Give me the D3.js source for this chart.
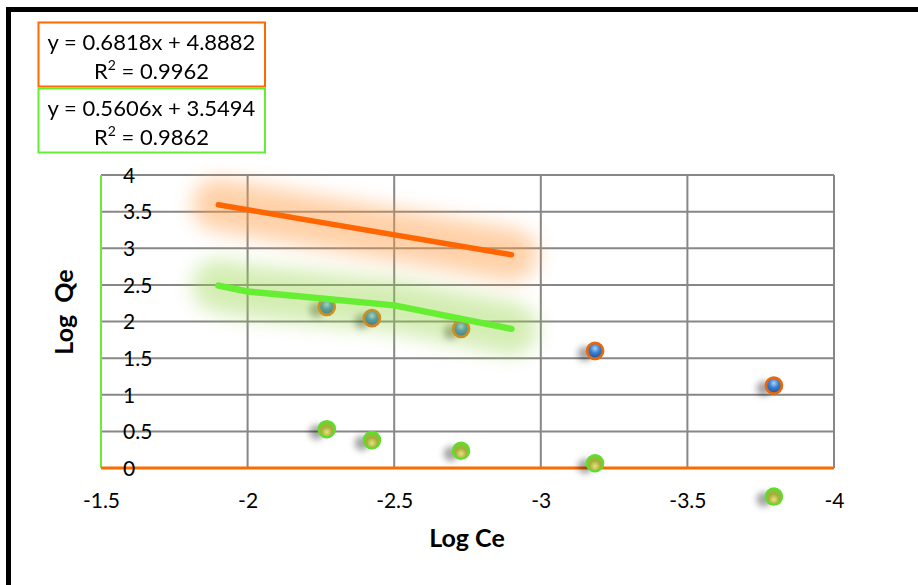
<!DOCTYPE html>
<html>
<head>
<meta charset="utf-8">
<script src="https://cdn.jsdelivr.net/npm/d3@7"></script>
<style>
  html, body { margin: 0; padding: 0; background: #fff; }
  svg { display: block; font-family: Lato, "Open Sans", sans-serif; }
</style>
</head>
<body>
<svg id="chart" width="918" height="585"></svg>
<script>
// Measured points (log scale)
const logCe = [-2.27, -2.424, -2.728, -3.185, -3.795];
const seriesA = [2.20, 2.045, 1.90, 1.60, 1.125];   // blue markers, orange rim
const seriesB = [0.53, 0.38, 0.235, 0.065, -0.39];  // green markers

// Trendline traces as plotted
const trendAx = [-1.9, -2.9];
const trendAy = [3.593, 2.911];
const trendBx = [-1.9, -2.0, -2.5, -2.9];
const trendBy = [2.49, 2.41, 2.22, 1.90];

const xTicks = [-1.5, -2, -2.5, -3, -3.5, -4];
const yTicks = [0, 0.5, 1, 1.5, 2, 2.5, 3, 3.5, 4];

const eqA = ["y = 0.6818x + 4.8882", "0.9962"];
const eqB = ["y = 0.5606x + 3.5494", "0.9862"];

const svg = d3.select("#chart");
const defs = svg.append("defs");

const x = d3.scaleLinear().domain([-1.5, -4]).range([101, 834]);
const y = d3.scaleLinear().domain([0, 4]).range([468, 175]);

// Filters and gradients
const glow = defs.append("filter").attr("id", "glow")
  .attr("x", "-30%").attr("y", "-100%").attr("width", "160%").attr("height", "300%");
glow.append("feGaussianBlur").attr("stdDeviation", 10);

const shadow = defs.append("filter").attr("id", "shadow")
  .attr("x", "-100%").attr("y", "-100%").attr("width", "300%").attr("height", "300%");
shadow.append("feGaussianBlur").attr("stdDeviation", 3);

const gBlue = defs.append("radialGradient").attr("id", "ballBlue")
  .attr("cx", "50%").attr("cy", "35%").attr("r", "65%");
gBlue.append("stop").attr("offset", "0%").attr("stop-color", "#a6d4ff");
gBlue.append("stop").attr("offset", "45%").attr("stop-color", "#3a7fd2");
gBlue.append("stop").attr("offset", "100%").attr("stop-color", "#1f4f90");

const gGreen = defs.append("radialGradient").attr("id", "ballGreen")
  .attr("cx", "50%").attr("cy", "68%").attr("r", "60%");
gGreen.append("stop").attr("offset", "0%").attr("stop-color", "#e4e47c");
gGreen.append("stop").attr("offset", "55%").attr("stop-color", "#a8ac3c");
gGreen.append("stop").attr("offset", "100%").attr("stop-color", "#7ccc30");

// Outer frame
svg.append("rect")
  .attr("x", 8.5).attr("y", 9.5).attr("width", 940).attr("height", 600)
  .attr("fill", "none").attr("stroke", "#000").attr("stroke-width", 5);

// Gridlines
svg.append("g").selectAll("line").data(yTicks.filter(d => d > 0)).join("line")
  .attr("x1", x(-1.5)).attr("x2", x(-4))
  .attr("y1", d => y(d)).attr("y2", d => y(d))
  .attr("stroke", "#878787").attr("stroke-width", 2);
svg.append("g").selectAll("line").data(xTicks.filter(d => d !== -1.5)).join("line")
  .attr("x1", d => x(d)).attr("x2", d => x(d))
  .attr("y1", y(0)).attr("y2", y(4))
  .attr("stroke", "#878787").attr("stroke-width", 2);

// Axis lines
svg.append("line")
  .attr("x1", x(-1.5)).attr("x2", x(-1.5)).attr("y1", y(0)).attr("y2", y(4))
  .attr("stroke", "#66ee33").attr("stroke-width", 2);
svg.append("line")
  .attr("x1", x(-1.5)).attr("x2", x(-4)).attr("y1", y(0)).attr("y2", y(0))
  .attr("stroke", "#ff6a00").attr("stroke-width", 3);

// Tick labels
const fmt = d => String(d);
const xAxis = svg.append("g").attr("transform", `translate(0,${y(0)})`)
  .call(d3.axisBottom(x).tickValues(xTicks).tickSize(0).tickFormat(fmt));
xAxis.select(".domain").remove();
xAxis.selectAll("text").attr("y", 33).attr("dy", "0.35em")
  .attr("font-size", 21).attr("fill", "#000").attr("font-family", "Lato, sans-serif");

const yAxis = svg.append("g").attr("transform", "translate(123,0)")
  .call(d3.axisLeft(y).tickValues(yTicks).tickSize(0).tickFormat(fmt));
yAxis.select(".domain").remove();
yAxis.selectAll("text").attr("x", 0).attr("text-anchor", "start").attr("dy", "0.35em")
  .attr("font-size", 21).attr("fill", "#000").attr("font-family", "Lato, sans-serif");

// Axis titles
svg.append("text").attr("x", 467).attr("y", 538).attr("dy", "0.35em")
  .attr("text-anchor", "middle").attr("font-weight", "bold").attr("font-size", 25)
  .text("Log Ce");
svg.append("text").attr("transform", "translate(64,312) rotate(-90)").attr("dy", "0.35em")
  .attr("text-anchor", "middle").attr("font-weight", "bold").attr("font-size", 25)
  .attr("xml:space", "preserve").text("Log  Qe");

// Marker shadows and markers
const pts = logCe.map((c, i) => ({ c, a: seriesA[i], b: seriesB[i] }));
const sh = svg.append("g").attr("filter", "url(#shadow)");
sh.selectAll("circle.sa").data(pts).join("circle")
  .attr("cx", d => x(d.c) - 10).attr("cy", d => y(d.a) + 3).attr("r", 7.5)
  .attr("fill", "#000").attr("opacity", 0.35);
sh.selectAll("circle.sb").data(pts).join("circle")
  .attr("cx", d => x(d.c) - 10).attr("cy", d => y(d.b) + 3).attr("r", 7.5)
  .attr("fill", "#000").attr("opacity", 0.35);

svg.append("g").selectAll("circle").data(pts).join("circle")
  .attr("cx", d => x(d.c)).attr("cy", d => y(d.a)).attr("r", 8)
  .attr("fill", "url(#ballBlue)").attr("stroke", "#e8680c").attr("stroke-width", 2.8);
svg.append("g").selectAll("circle").data(pts).join("circle")
  .attr("cx", d => x(d.c)).attr("cy", d => y(d.b)).attr("r", 8.2)
  .attr("fill", "url(#ballGreen)").attr("stroke", "#5ede2a").attr("stroke-width", 2.2);

// Trendlines with soft glow
const line = d3.line().x(d => x(d[0])).y(d => y(d[1]));
const trendA = trendAx.map((v, i) => [v, trendAy[i]]);
const trendB = trendBx.map((v, i) => [v, trendBy[i]]);

svg.append("path").attr("d", line(trendA)).attr("fill", "none")
  .attr("stroke", "#ff9a40").attr("stroke-width", 52).attr("stroke-linecap", "round")
  .attr("opacity", 0.45).attr("filter", "url(#glow)");
svg.append("path").attr("d", line(trendB)).attr("fill", "none")
  .attr("stroke", "#98d448").attr("stroke-width", 52).attr("stroke-linecap", "round")
  .attr("opacity", 0.42).attr("filter", "url(#glow)");

svg.append("path").attr("d", line(trendA)).attr("fill", "none")
  .attr("stroke", "#ff6600").attr("stroke-width", 5.5).attr("stroke-linecap", "round");
svg.append("path").attr("d", line(trendB)).attr("fill", "none")
  .attr("stroke", "#66ee33").attr("stroke-width", 6.5).attr("stroke-linecap", "round")
  .attr("stroke-linejoin", "round");

// Equation boxes
function eqBox(lines, top, color) {
  const g = svg.append("g");
  g.append("rect").attr("x", 38.5).attr("y", top).attr("width", 226.5).attr("height", 64)
    .attr("fill", "#fff").attr("stroke", color).attr("stroke-width", 2);
  g.append("text").attr("x", 151.5).attr("y", top + 27).attr("text-anchor", "middle")
    .attr("font-size", 22).text(lines[0]);
  const t = g.append("text").attr("x", 151.5).attr("y", top + 56).attr("text-anchor", "middle")
    .attr("font-size", 22);
  t.append("tspan").text("R");
  t.append("tspan").attr("font-size", 14).attr("dy", -9).text("2");
  t.append("tspan").attr("dy", 9).text(" = " + lines[1]);
}
eqBox(eqA, 22.5, "#ff6a00");
eqBox(eqB, 88.5, "#66ee33");
</script>
</body>
</html>
